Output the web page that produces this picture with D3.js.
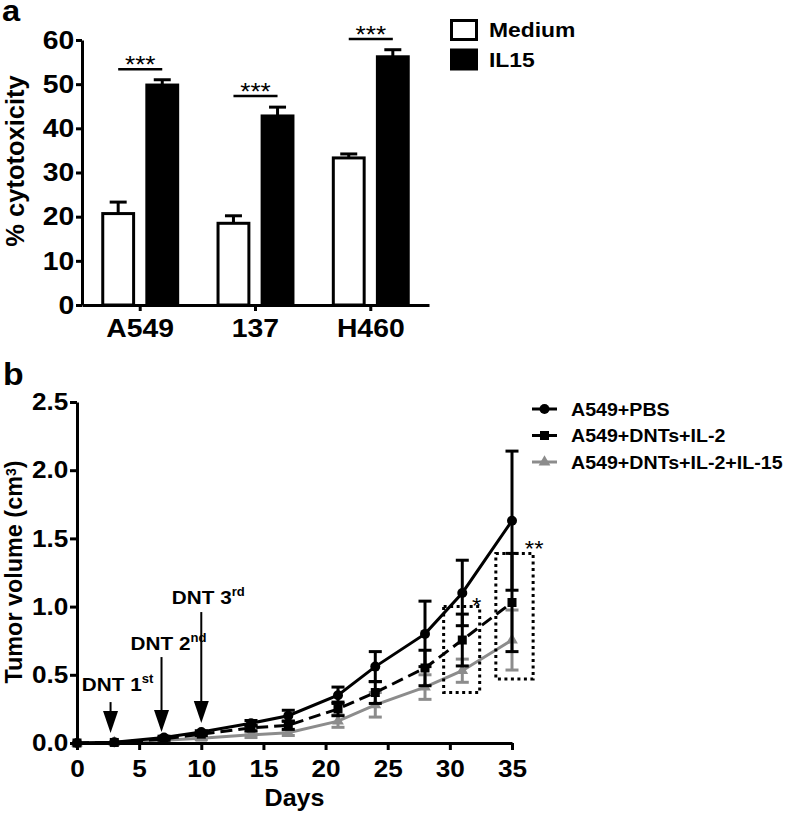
<!DOCTYPE html>
<html><head><meta charset="utf-8">
<script src="https://cdn.jsdelivr.net/npm/d3@7"></script>
<style>
html,body{margin:0;padding:0;background:#fff;}
svg{display:block;font-family:"Liberation Sans",Arial,sans-serif;}
</style></head>
<body>
<script>
// ---------- Panel a data ----------
const catA = ["A549", "137", "H460"];
const groupsA = ["Medium", "IL15"];
const mediumVals = [20.7, 18.5, 33.3];
const mediumErr = [2.6, 1.7, 0.9];
const il15Vals = [49.8, 42.8, 56.2];
const il15Err = [1.2, 2.0, 1.6];
const sigLevelA = [53.4, 47.3, 60.2];
const sigLabelA = ["***", "***", "***"];
const yTicksA = [0, 10, 20, 30, 40, 50, 60];

// ---------- Panel b data ----------
const days = [0, 3, 7, 10, 14, 17, 21, 24, 28, 31, 35];
const seriesNames = ["A549+PBS", "A549+DNTs+IL-2", "A549+DNTs+IL-2+IL-15"];
const pbsVals = [0, 0.005, 0.04, 0.08, 0.145, 0.2, 0.35, 0.56, 0.80, 1.10, 1.63];
const pbsErr = [0, 0.004, 0.01, 0.01, 0.02, 0.04, 0.06, 0.11, 0.24, 0.24, 0.51];
const dntVals = [0, 0.004, 0.03, 0.065, 0.11, 0.13, 0.25, 0.37, 0.55, 0.755, 1.03];
const dntErr = [0, 0.003, 0.01, 0.01, 0.02, 0.03, 0.05, 0.08, 0.13, 0.19, 0.36];
const il15bVals = [0, 0.003, 0.02, 0.035, 0.06, 0.075, 0.16, 0.28, 0.41, 0.53, 0.755];
const il15bErr = [0, 0.002, 0.01, 0.01, 0.02, 0.02, 0.045, 0.09, 0.09, 0.085, 0.22];
const xTicksB = [0, 5, 10, 15, 20, 25, 30, 35];
const yTicksB = [0, 0.5, 1.0, 1.5, 2.0, 2.5];
const arrowDays = [2.7, 6.8, 10];
const arrowTip = [0.073, 0.08, 0.147];
const arrowTop = [0.30, 0.63, 0.96];
const arrowLabelY = [0.38, 0.68, 1.02];
const arrowLabelMain = ["DNT 1", "DNT 2", "DNT 3"];
const arrowLabelSup = ["st", "nd", "rd"];
const sigBoxX0 = [29.5, 33.7];
const sigBoxX1 = [32.4, 36.7];
const sigBoxY0 = [0.37, 0.47];
const sigBoxY1 = [1.0, 1.39];
const sigBoxLabel = ["*", "**"];

const SX = 1.09;
const W = 787, H = 814;
const svg = d3.select("body").append("svg").attr("width", W).attr("height", H);
svg.append("rect").attr("width", W).attr("height", H).attr("fill", "#fff");

function txt(g, x, y, s, size, anchor, weight) {
  return g.append("text")
    .attr("transform", `translate(${x},${y}) scale(${SX},1)`)
    .attr("text-anchor", anchor || "start")
    .attr("font-size", size)
    .attr("font-weight", weight || "bold")
    .attr("fill", "#000")
    .text(s);
}

// =============== PANEL A ===============
const ga = svg.append("g");
const xA = d3.scaleBand().domain(catA).range([82, 429]).paddingInner(0.35).paddingOuter(0.18);
const xSub = d3.scaleBand().domain(groupsA).range([0, xA.bandwidth()]).paddingInner(0.3);
const yA = d3.scaleLinear().domain([0, 60]).range([305, 40]);

const barData = [];
catA.forEach((c, i) => {
  barData.push({c, g: "Medium", v: mediumVals[i], e: mediumErr[i]});
  barData.push({c, g: "IL15", v: il15Vals[i], e: il15Err[i]});
});
// error bars (upward only)
barData.forEach(d => {
  const cx = xA(d.c) + xSub(d.g) + xSub.bandwidth() / 2;
  ga.append("line").attr("x1", cx).attr("x2", cx).attr("y1", yA(d.v)).attr("y2", yA(d.v + d.e))
    .attr("stroke", "#000").attr("stroke-width", 3);
  ga.append("line").attr("x1", cx - 8.5).attr("x2", cx + 8.5).attr("y1", yA(d.v + d.e)).attr("y2", yA(d.v + d.e))
    .attr("stroke", "#000").attr("stroke-width", 3);
});
ga.selectAll("rect.bar").data(barData).join("rect").attr("class", "bar")
  .attr("x", d => xA(d.c) + xSub(d.g))
  .attr("width", xSub.bandwidth())
  .attr("y", d => yA(d.v))
  .attr("height", d => yA(0) - yA(d.v))
  .attr("fill", d => d.g === "Medium" ? "#fff" : "#000")
  .attr("stroke", "#000").attr("stroke-width", 3);

// significance
catA.forEach((c, i) => {
  const x1 = xA(c) + xSub("Medium") + xSub.bandwidth() / 2;
  const x2 = xA(c) + xSub("IL15") + xSub.bandwidth() / 2;
  const y = yA(sigLevelA[i]);
  ga.append("line").attr("x1", x1).attr("x2", x2).attr("y1", y).attr("y2", y)
    .attr("stroke", "#000").attr("stroke-width", 2.5);
  txt(ga, (x1 + x2) / 2, y + 4, sigLabelA[i], 24, "middle", "normal");
});

// axes
const axLA = ga.append("g").attr("transform", "translate(82,0)")
  .call(d3.axisLeft(yA).tickValues(yTicksA).tickSize(6).tickSizeOuter(0).tickPadding(1));
const axBA = ga.append("g").attr("transform", "translate(0,305)")
  .call(d3.axisBottom(xA).tickSize(6).tickSizeOuter(0).tickPadding(8));
[axLA, axBA].forEach(ax => {
  ax.select(".domain").attr("stroke", "#000").attr("stroke-width", 3);
  ax.selectAll(".tick line").attr("stroke", "#000").attr("stroke-width", 3);
  ax.selectAll(".tick text").attr("font-size", 26).attr("font-weight", "bold").attr("fill", "#000")
    .attr("font-family", "Liberation Sans, Arial, sans-serif").attr("transform", `scale(${SX},1)`);
});
ga.append("text").attr("transform", "translate(24,161) rotate(-90)")
  .attr("text-anchor", "middle").attr("font-size", 25.5).attr("font-weight", "bold").text("% cytotoxicity");

// legend a
groupsA.forEach((g, i) => {
  const yy = 19 + i * 29.5;
  ga.append("rect").attr("x", 451.5).attr("y", yy + 1.5).attr("width", 25).attr("height", 19)
    .attr("fill", g === "Medium" ? "#fff" : "#000").attr("stroke", "#000").attr("stroke-width", 3);
  txt(ga, 489, yy + 18, g, 21, "start");
});
txt(ga, 2, 21, "a", 30, "start");

// =============== PANEL B ===============
const gb = svg.append("g");
const xB = d3.scaleLinear().domain([0, 35]).range([77, 512]);
const yB = d3.scaleLinear().domain([0, 2.5]).range([743, 402]);

const series = [
  {name: seriesNames[2], vals: il15bVals, err: il15bErr, color: "#8c8c8c", dash: null, marker: "tri"},
  {name: seriesNames[1], vals: dntVals, err: dntErr, color: "#000", dash: "12,6", marker: "sq"},
  {name: seriesNames[0], vals: pbsVals, err: pbsErr, color: "#000", dash: null, marker: "circ"}
];

function drawMarker(g, type, x, y, color) {
  if (type === "circ") g.append("circle").attr("cx", x).attr("cy", y).attr("r", 5).attr("fill", color);
  else if (type === "sq") g.append("rect").attr("x", x - 4.5).attr("y", y - 4.5).attr("width", 9).attr("height", 9).attr("fill", color);
  else g.append("path").attr("d", d3.symbol(d3.symbolTriangle, 60)()).attr("transform", `translate(${x},${y})`).attr("fill", color);
}

const lineGen = d3.line().x(d => xB(d[0])).y(d => yB(d[1]));
series.forEach(s => {
  const pts = days.map((d, i) => [d, s.vals[i], s.err[i]]);
  pts.forEach(p => {
    if (p[2] <= 0.006) return;
    const x = xB(p[0]);
    gb.append("line").attr("x1", x).attr("x2", x).attr("y1", yB(p[1] - p[2])).attr("y2", yB(p[1] + p[2]))
      .attr("stroke", s.color).attr("stroke-width", 3);
    [p[1] - p[2], p[1] + p[2]].forEach(v => {
      gb.append("line").attr("x1", x - 6.5).attr("x2", x + 6.5).attr("y1", yB(v)).attr("y2", yB(v))
        .attr("stroke", s.color).attr("stroke-width", 3);
    });
  });
  gb.append("path").attr("d", lineGen(pts)).attr("fill", "none").attr("stroke", s.color)
    .attr("stroke-width", 3).attr("stroke-dasharray", s.dash);
  pts.forEach(p => drawMarker(gb, s.marker, xB(p[0]), yB(p[1]), s.color));
});

// significance boxes
sigBoxX0.forEach((x0, i) => {
  gb.append("rect").attr("x", xB(x0)).attr("y", yB(sigBoxY1[i]))
    .attr("width", xB(sigBoxX1[i]) - xB(x0)).attr("height", yB(sigBoxY0[i]) - yB(sigBoxY1[i]))
    .attr("fill", "none").attr("stroke", "#000").attr("stroke-width", 3).attr("stroke-dasharray", "3,3.5");
  txt(gb, xB(sigBoxX1[i]) + (i === 0 ? -3 : 1), yB(sigBoxY1[i]) + (i === 0 ? 6 : 3), sigBoxLabel[i], 22, "middle", "normal");
});

// arrows
arrowDays.forEach((d, i) => {
  const x = xB(d), tip = yB(arrowTip[i]), top = yB(arrowTop[i]);
  gb.append("line").attr("x1", x).attr("x2", x).attr("y1", top).attr("y2", tip - 20)
    .attr("stroke", "#000").attr("stroke-width", 2);
  gb.append("path").attr("d", `M${x - 7.5},${tip - 22}L${x + 7.5},${tip - 22}L${x},${tip}Z`).attr("fill", "#000");
  const t = txt(gb, x + 7, yB(arrowLabelY[i]), arrowLabelMain[i], 19, "middle");
  t.append("tspan").attr("font-size", 12).attr("dy", -8).text(arrowLabelSup[i]);
});

// axes b
const axLB = gb.append("g").attr("transform", "translate(77,0)")
  .call(d3.axisLeft(yB).tickValues(yTicksB).tickFormat(d3.format(".1f")).tickSize(7).tickSizeOuter(0).tickPadding(1));
const axBB = gb.append("g").attr("transform", "translate(0,743)")
  .call(d3.axisBottom(xB).tickValues(xTicksB).tickFormat(d3.format("d")).tickSize(7).tickSizeOuter(0).tickPadding(10));
[axLB, axBB].forEach(ax => {
  ax.select(".domain").attr("stroke", "#000").attr("stroke-width", 3);
  ax.selectAll(".tick line").attr("stroke", "#000").attr("stroke-width", 3);
  ax.selectAll(".tick text").attr("font-size", 24).attr("font-weight", "bold").attr("fill", "#000")
    .attr("font-family", "Liberation Sans, Arial, sans-serif").attr("transform", `scale(${SX},1)`);
});
const yl = gb.append("text").attr("transform", "translate(22,572) rotate(-90)")
  .attr("text-anchor", "middle").attr("font-size", 23.4).attr("font-weight", "bold").text("Tumor volume (cm");
yl.append("tspan").attr("font-size", 14).attr("dy", -6).text("3");
yl.append("tspan").attr("dy", 6).text(")");
txt(gb, 294.5, 806, "Days", 23, "middle");
txt(gb, 3, 385, "b", 31, "start");

// legend b
const legOrder = [
  {name: seriesNames[0], color: "#000", marker: "circ"},
  {name: seriesNames[1], color: "#000", marker: "sq"},
  {name: seriesNames[2], color: "#8c8c8c", marker: "tri"}
];
legOrder.forEach((s, i) => {
  const y = 409 + i * 26.5;
  gb.append("line").attr("x1", 532).attr("x2", 557).attr("y1", y).attr("y2", y)
    .attr("stroke", s.color).attr("stroke-width", 3);
  drawMarker(gb, s.marker, 544.5, y, s.color);
  txt(gb, 571, y + 6.5, s.name, 18, "start");
});
</script>
</body></html>
